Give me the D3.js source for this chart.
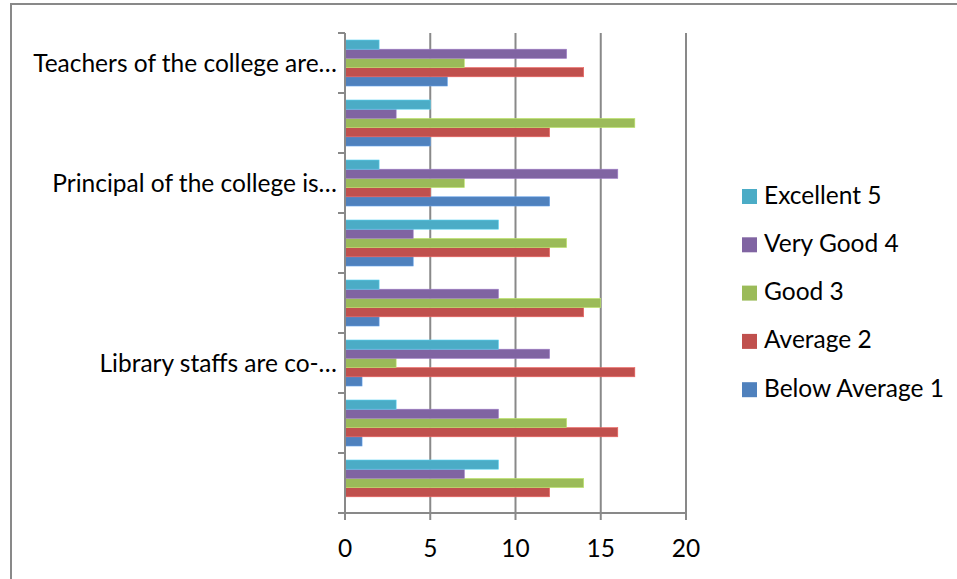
<!DOCTYPE html>
<html>
<head>
<meta charset="utf-8">
<script src="https://cdn.jsdelivr.net/npm/d3@7"></script>
<style>
  html, body { margin: 0; padding: 0; background: #fff; }
  svg { display: block; }
  text { font-family: Lato, "Open Sans", sans-serif; fill: #000; }
</style>
</head>
<body>
<svg id="chart" width="957" height="579"></svg>
<script>
// Categories listed bottom to top (Excel order); only some labels are displayed
const categories = ["", "", "Library staffs are co-…", "", "", "Principal of the college is…", "", "Teachers of the college are…"];
const seriesNames = ["Below Average 1", "Average 2", "Good 3", "Very Good 4", "Excellent 5"];
const belowAverage1 = [0, 1, 1, 2, 4, 12, 5, 6];
const average2      = [12, 16, 17, 14, 12, 5, 12, 14];
const good3         = [14, 13, 3, 15, 13, 7, 17, 7];
const veryGood4     = [7, 9, 12, 9, 4, 16, 3, 13];
const excellent5    = [9, 3, 9, 2, 9, 2, 5, 2];
const xTicks = [0, 5, 10, 15, 20];
const colors = ["#4F81BD", "#C0504D", "#9BBB59", "#8064A2", "#4BACC6"];

const seriesValues = [belowAverage1, average2, good3, veryGood4, excellent5];

const svg = d3.select("#chart");
const gridColor = "#898989";
const fontSize = "24.5px";

// outer frame (extends past right/bottom edges)
svg.append("rect")
  .attr("x", 11).attr("y", 4).attr("width", 1000).attr("height", 700)
  .attr("fill", "none").attr("stroke", gridColor).attr("stroke-width", 2);

const x = d3.scaleLinear().domain([0, 20]).range([345, 686]);
// categories: index 0 at bottom
const catIdx = categories.map((d, i) => i);
const y = d3.scaleBand().domain(catIdx.slice().reverse()).range([33, 513]).padding(0);
const bw = y.bandwidth();
const gapFrac = 0.233;
// series: series 0 at bottom of each group
const ys = d3.scaleBand().domain(d3.range(seriesNames.length).reverse())
  .range([bw * gapFrac / 2, bw * (1 - gapFrac / 2)]).padding(0);

// vertical gridlines
svg.append("g").selectAll("line").data(xTicks.filter(t => t > 0)).join("line")
  .attr("x1", d => x(d)).attr("x2", d => x(d))
  .attr("y1", 33).attr("y2", 513)
  .attr("stroke", gridColor).attr("stroke-width", 2);

// bars
const groups = svg.append("g").selectAll("g").data(catIdx).join("g")
  .attr("transform", d => `translate(0,${y(d)})`);
groups.selectAll("rect")
  .data(ci => seriesValues.map((vals, si) => ({ si, v: vals[ci] })))
  .join("rect")
  .attr("x", x(0))
  .attr("y", d => ys(d.si))
  .attr("width", d => x(d.v) - x(0))
  .attr("height", ys.bandwidth())
  .attr("fill", d => colors[d.si])
  .attr("stroke", d => d.v > 0 ? d3.color(colors[d.si]).brighter(0.6) : "none")
  .attr("stroke-width", 0.6);

// y axis
const yAxis = svg.append("g").attr("transform", `translate(${x(0)},0)`);
yAxis.append("line").attr("x1", 0).attr("x2", 0).attr("y1", 33).attr("y2", 513)
  .attr("stroke", gridColor).attr("stroke-width", 2);
const boundaries = d3.range(categories.length + 1).map(i => 33 + i * bw);
yAxis.selectAll("line.tick").data(boundaries).join("line").attr("class", "tick")
  .attr("x1", -7).attr("x2", 0).attr("y1", d => d).attr("y2", d => d)
  .attr("stroke", gridColor).attr("stroke-width", 2);
yAxis.selectAll("text").data(catIdx.filter(i => categories[i])).join("text")
  .attr("x", -8)
  .attr("y", d => y(d) + bw / 2 + 8.5)
  .attr("text-anchor", "end")
  .style("font-size", fontSize)
  .text(d => categories[d]);

// x axis
const xAxis = svg.append("g").attr("transform", "translate(0,513)");
xAxis.append("line").attr("x1", x(0) - 7).attr("x2", x(20)).attr("y1", 0).attr("y2", 0)
  .attr("stroke", gridColor).attr("stroke-width", 2);
xAxis.selectAll("line.tick").data(xTicks).join("line").attr("class", "tick")
  .attr("x1", d => x(d)).attr("x2", d => x(d)).attr("y1", 0).attr("y2", 7)
  .attr("stroke", gridColor).attr("stroke-width", 2);
xAxis.selectAll("text").data(xTicks).join("text")
  .attr("x", d => x(d)).attr("y", 44)
  .attr("text-anchor", "middle")
  .style("font-size", fontSize)
  .text(d => d);

// legend (top to bottom: Excellent 5 ... Below Average 1)
const legendOrder = d3.range(seriesNames.length).reverse();
const legend = svg.append("g").selectAll("g").data(legendOrder).join("g")
  .attr("transform", (d, i) => `translate(742,${189 + i * 48.3})`);
legend.append("rect").attr("width", 15).attr("height", 15)
  .attr("fill", d => colors[d]);
legend.append("text").attr("x", 22).attr("y", 14.5)
  .style("font-size", fontSize)
  .text(d => seriesNames[d]);
</script>
</body>
</html>
